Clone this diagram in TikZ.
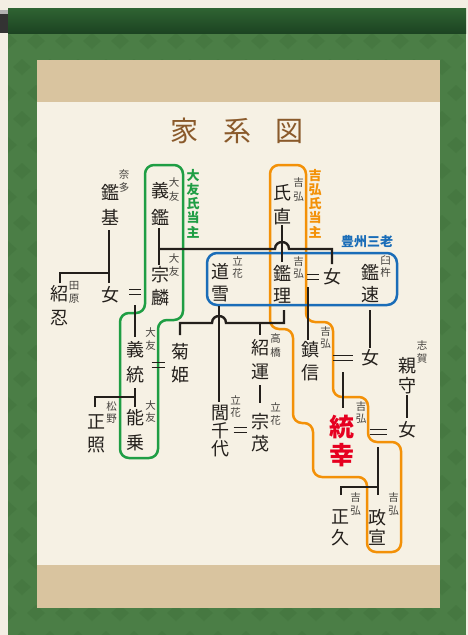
\documentclass[tikz,border=0pt]{standalone}
\usepackage{fontspec}
\newfontfamily\cjk{Noto Sans CJK JP}
\definecolor{ink}{HTML}{231F1B}
\definecolor{paper}{HTML}{F6F1E4}
\definecolor{outside}{HTML}{F3EEE3}
\definecolor{scroll}{HTML}{4B7E46}
\definecolor{scrolldk}{HTML}{3C6C38}
\definecolor{barA}{HTML}{2F6332}
\definecolor{barB}{HTML}{1C4422}
\definecolor{tanband}{HTML}{D9C49F}
\definecolor{titlebrown}{HTML}{8A5A2B}
\definecolor{otomo}{HTML}{1F9E44}
\definecolor{yoshi}{HTML}{F39108}
\definecolor{hoshu}{HTML}{1A6DB8}
\definecolor{hired}{HTML}{E60020}
\tikzset{
  nm/.style={font=\cjk\fontsize{18}{#1}\selectfont, text=ink, inner sep=0pt, align=center},
  nm/.default=24,
  sm/.style={font=\cjk\fontsize{10.5}{#1}\selectfont, text=ink!85, inner sep=0pt, align=center},
  sm/.default=12.5,
  lbl/.style={font=\cjk\bfseries\fontsize{13}{14.3}\selectfont, inner sep=0pt, align=center},
  ln/.style={draw=ink, line width=2.4pt},
  eqsign/.style={draw=ink, line width=1.6pt},
  frame/.style={line width=2.5pt, rounded corners=9pt},
}
\begin{document}
\begin{tikzpicture}[x=1pt,y=-1pt]
\useasboundingbox (0,0) rectangle (468,635);
% scroll
\fill[outside] (0,0) rectangle (468,635);
\fill[scroll] (8,8) rectangle (466,635);
\begin{scope}
\clip (8,33) rectangle (466,635);
\foreach \j in {0,...,24} {
  \foreach \i in {0,...,17} {
    \pgfmathsetmacro{\xx}{8+\i*28+14*mod(\j,2)}
    \pgfmathsetmacro{\yy}{33+\j*26}
    \fill[scrolldk, opacity=.3] (\xx,\yy) -- ++(9,8) -- ++(-9,8) -- ++(-9,-8) -- cycle;
  }
}
\end{scope}
\fill[top color=barA, bottom color=barB] (8,8) rectangle (466,33);
\fill[black!80] (0,12) rectangle (8,33);
\fill[black!30] (0,10) rectangle (8,14);
\fill[tanband] (37,60) rectangle (440,102);
\fill[tanband] (37,565) rectangle (440,608);
\fill[paper] (37,102) rectangle (440,565);
% title
\node[font=\cjk\fontsize{28}{30}\selectfont, text=titlebrown, inner sep=0pt] (title) at (237,131) {家\hspace{24.5pt}系\hspace{24.5pt}図};
% frames
\draw[frame, otomo] (145,165) -- (183,165) -- (183,320) -- (158,320) -- (158,458) -- (120,458) -- (120,313) -- (145,313) -- cycle;
\draw[frame, yoshi] (270,165) -- (306,165) -- (306,322) -- (333,322) -- (333,397) -- (368,397) -- (368,442) -- (401,442) -- (401,552) -- (367,552) -- (367,477) -- (313,477) -- (313,423) -- (293,423) -- (293,329) -- (270,329) -- cycle;
\draw[frame, hoshu, rounded corners=10pt] (207,253) rectangle (397,305);
\node[lbl, text=otomo] (otomolbl) at (193,203.5) {大\\友\\氏\\当\\主};
\node[lbl, text=yoshi] (yoshilbl) at (315,203.5) {吉\\弘\\氏\\当\\主};
\node[lbl, text=hoshu] (hoshulbl) at (367,242) {豊州三老};
% names
\node[nm=25] (akimoto) at (110,204.5) {鑑\\基};
\node[sm] (nata) at (124,181) {奈\\多};
\node[nm=27] (yoshiaki) at (160,203.5) {義\\鑑};
\node[sm=14] (otomoA) at (174,190) {大\\友};
\node[nm=23] (sorin) at (160,286) {宗\\麟};
\node[sm] (otomoB) at (174,265) {大\\友};
\node[nm=24] (shonin) at (59,306) {紹\\忍};
\node[sm] (tawara) at (74,292.5) {田\\原};
\node[nm] (onnaA) at (110,295) {女};
\node[nm=25] (yoshimune) at (135,362.5) {義\\統};
\node[sm] (otomoC) at (150.5,339) {大\\友};
\node[nm=25] (yoshinori) at (135,430.5) {能\\乗};
\node[sm] (otomoD) at (150.5,411.5) {大\\友};
\node[nm=23] (masateru) at (96,433.5) {正\\照};
\node[sm] (matsuno) at (111.5,412.5) {松\\野};
\node[nm=23] (kikuhime) at (180,363.5) {菊\\姫};
\node[nm=22] (dosetsu) at (220,283) {道\\雪};
\node[sm] (tachibanaA) at (237.5,267.5) {立\\花};
\node[nm=24] (ujinao) at (282,205) {氏\\直};
\node[sm=14] (yoshihiroA) at (298.5,190) {吉\\弘};
\node[nm=22] (akimasa) at (282,284) {鑑\\理};
\node[sm] (yoshihiroB) at (298.5,267.5) {吉\\弘};
\node[nm] (onnaB) at (332,277) {女};
\node[nm=22] (akihaya) at (370,284) {鑑\\速};
\node[sm] (usuki) at (385.5,266.5) {臼\\杵};
\node[nm=18] (ginchiyo) at (220,431) {閭\\千\\代};
\node[sm] (tachibanaB) at (235.5,406.5) {立\\花};
\node[nm=24] (joun) at (260,360) {紹\\運};
\node[sm=14] (takahashi) at (275.5,345) {高\\橋};
\node[nm=22] (muneshige) at (260,432.5) {宗\\茂};
\node[sm] (tachibanaC) at (275.5,414) {立\\花};
\node[nm=23] (shigenobu) at (310,361.5) {鎮\\信};
\node[sm] (yoshihiroC) at (325.5,337.5) {吉\\弘};
\node[nm] (onnaC) at (370,358) {女};
\node[font=\cjk\bfseries\fontsize{25}{28}\selectfont, text=hired, inner sep=0pt, align=center] (muneyuki) at (342,441) {統\\幸};
\node[sm] (yoshihiroD) at (361,412.5) {吉\\弘};
\node[nm=20] (chikamori) at (407,376) {親\\守};
\node[sm=13] (shiga) at (422,352) {志\\賀};
\node[nm] (onnaD) at (407,430) {女};
\node[nm=21] (masahisa) at (340,527.5) {正\\久};
\node[sm] (yoshihiroE) at (355.5,504) {吉\\弘};
\node[nm=20] (masanobu) at (377,527) {政\\宣};
\node[sm] (yoshihiroF) at (393.5,504) {吉\\弘};
% connectors
\draw[ln] (109,230) -- (109,283);
\draw[ln] (60,283) -- (60,273) -- (109,273);
\draw[ln] (159,228) -- (159,265);
\draw[ln] (159,249) -- (275,249) .. controls (275,239.7) and (289,239.7) .. (289,249) -- (332,249) -- (332,264);
\draw[ln] (282,225) -- (282,262);
\draw[eqsign] (129,289.5) -- (141,289.5) (129,294.5) -- (141,294.5);
\draw[ln] (135,305) -- (135,337);
\draw[ln] (135,388) -- (135,407);
\draw[ln] (95,407) -- (95,397) -- (135,397);
\draw[eqsign] (151.5,362.5) -- (164.5,362.5) (151.5,367.5) -- (164.5,367.5);
\draw[ln] (219,306) -- (219,402);
\draw[ln] (284,310) -- (284,323) -- (226,323) .. controls (226,313.7) and (212,313.7) .. (212,323) -- (180,323) -- (180,335);
\draw[ln] (260,323) -- (260,335);
\draw[ln] (260,385) -- (260,403);
\draw[eqsign] (233.5,427.5) -- (246.5,427.5) (233.5,432.5) -- (246.5,432.5);
\draw[eqsign] (307,274.5) -- (319,274.5) (307,279.5) -- (319,279.5);
\draw[ln] (308,287) -- (308,340);
\draw[ln] (370,310) -- (370,348);
\draw[eqsign] (333,355.5) -- (353,355.5) (333,360.5) -- (353,360.5);
\draw[ln] (343,372) -- (343,408);
\draw[ln] (407,395) -- (407,418);
\draw[eqsign] (369.5,429.5) -- (386.5,429.5) (369.5,434.5) -- (386.5,434.5);
\draw[ln] (378,447) -- (378,495);
\draw[ln] (341,495) -- (341,487) -- (378,487);
\end{tikzpicture}
\end{document}
